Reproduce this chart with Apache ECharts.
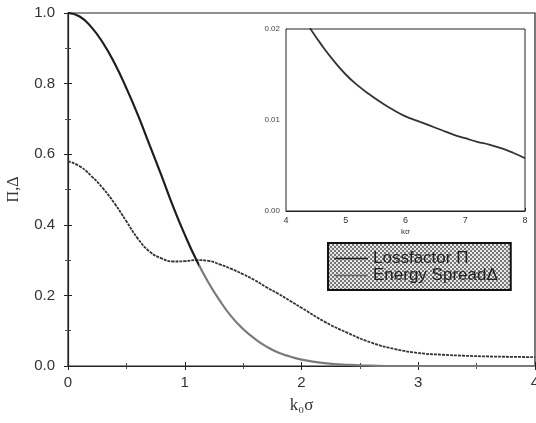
<!DOCTYPE html>
<html><head><meta charset="utf-8">
<script src="https://cdn.jsdelivr.net/npm/echarts@6/dist/echarts.min.js"></script>
<style>html,body{margin:0;padding:0;background:#fff}#c{width:536px;height:423px}</style>
</head><body><div id="c"></div>
<script>
// Main plot data (k0*sigma)
const xMain = [0,0.1,0.2,0.3,0.4,0.5,0.6,0.7,0.8,0.9,1.0,1.1,1.2,1.3,1.4,1.5,1.6,1.7,1.8,1.9,2.0,2.2,2.4,2.6,2.8,3.0,3.2,3.4,3.6,3.8,4.0];
const lossFactor = [1.0,0.99,0.96,0.915,0.857,0.787,0.71,0.625,0.54,0.452,0.372,0.30,0.238,0.185,0.14,0.105,0.077,0.055,0.038,0.027,0.018,0.008,0.003,0.001,0.0,0.0,0.0,0.0,0.0,0.0,0.0];
const energySpread = [0.58,0.566,0.538,0.503,0.46,0.41,0.36,0.324,0.305,0.296,0.297,0.300,0.298,0.288,0.275,0.26,0.243,0.223,0.205,0.185,0.165,0.125,0.093,0.066,0.048,0.037,0.032,0.029,0.027,0.026,0.025];
// Inset data (k*sigma from 4 to 8)
const xInset = [4.4,4.6,4.8,5.0,5.2,5.4,5.6,5.8,6.0,6.2,6.4,6.6,6.8,7.0,7.2,7.4,7.6,7.8,8.0];
const insetVals = [0.0201,0.0182,0.0165,0.0150,0.0138,0.0128,0.0119,0.0111,0.0104,0.0099,0.0094,0.0089,0.0084,0.0080,0.0076,0.0073,0.0069,0.0064,0.0058];
const legendNames = ['Lossfactor Π','Energy SpreadΔ'];

function pair(xs, ys){ return xs.map((x,i)=>[x,ys[i]]); }

// dotted pattern for legend box
const pc = document.createElement('canvas'); pc.width=4; pc.height=4;
const g = pc.getContext('2d');
g.fillStyle='#e8e8e8'; g.fillRect(0,0,4,4);
g.fillStyle='#777'; g.fillRect(0,0,2,2); g.fillRect(2,2,2,2);

const chart = echarts.init(document.getElementById('c'), null, {renderer:'canvas'});
const font = 'Liberation Sans';
const lossColor = {type:'linear', x:0, y:0, x2:1, y2:0, colorStops:[
  {offset:0, color:'#1e1e1e'},{offset:0.283, color:'#1e1e1e'},{offset:0.283, color:'#7a7a7a'},{offset:1, color:'#7a7a7a'}]};
chart.setOption({
  animation:false,
  backgroundColor:'#fff',
  grid:[
    {left:68, right:1, top:13, bottom:57, show:true, borderColor:'#222', borderWidth:1.2, outerBoundsMode:'none', containLabel:false},
    {left:286, right:11, top:29, bottom:212, show:true, borderColor:'#222', borderWidth:1, backgroundColor:'#fff', z:5, outerBoundsMode:'none', containLabel:false}
  ],
  legend:{
    data:legendNames, left:328, top:243, orient:'vertical',
    padding:[7,13,6,6], itemGap:0, itemWidth:34, itemHeight:10,
    backgroundColor:{image:pc, repeat:'repeat'}, borderColor:'#111', borderWidth:2,
    textStyle:{fontFamily:font, fontSize:17, color:'#222', lineHeight:16},
    icon:'path://M0,4 L40,4 L40,6 L0,6 Z', z:10
  },
  xAxis:[
    {gridIndex:0, type:'value', min:0, max:4, interval:1,
     name:'k₀σ', nameLocation:'middle', nameGap:31,
     nameTextStyle:{fontFamily:'Liberation Serif', fontSize:17, color:'#333'},
     axisLine:{lineStyle:{color:'#222', width:1.2}},
     axisTick:{inside:true, length:4, lineStyle:{color:'#222'}},
     minorTick:{show:true, splitNumber:2, length:3, lineStyle:{color:'#444'}},
     splitLine:{show:false},
     axisLabel:{fontFamily:font, fontSize:15, color:'#333', margin:9}},
    {gridIndex:0, type:'value', position:'top', min:0, max:4, interval:1,
     axisLine:{show:false}, axisTick:{inside:true, length:4, lineStyle:{color:'#222'}},
     minorTick:{show:true, splitNumber:2, length:3}, axisLabel:{show:false}, splitLine:{show:false}},
    {gridIndex:1, type:'value', min:4, max:8, interval:1,
     name:'kσ', nameLocation:'middle', nameGap:17,
     nameTextStyle:{fontFamily:font, fontSize:8, color:'#333'},
     axisLine:{lineStyle:{color:'#222'}},
     axisTick:{inside:true, length:3, lineStyle:{color:'#222'}},
     splitLine:{show:false},
     axisLabel:{fontFamily:font, fontSize:9, color:'#333', margin:5}}
  ],
  yAxis:[
    {gridIndex:0, type:'value', min:0, max:1, interval:0.2,
     name:'Π,Δ', nameLocation:'middle', nameGap:46,
     nameTextStyle:{fontFamily:'Liberation Serif', fontSize:16, color:'#333'},
     axisLine:{lineStyle:{color:'#222', width:1.2}},
     axisTick:{inside:true, length:4, lineStyle:{color:'#222'}},
     minorTick:{show:true, splitNumber:2, length:3, lineStyle:{color:'#444'}},
     splitLine:{show:false},
     axisLabel:{fontFamily:font, fontSize:15, color:'#333', margin:13, formatter:v=>v.toFixed(1)}},
    {gridIndex:0, type:'value', position:'right', min:0, max:1, interval:0.2,
     axisLine:{show:false}, axisTick:{inside:true, length:4, lineStyle:{color:'#222'}},
     minorTick:{show:true, splitNumber:2, length:3}, axisLabel:{show:false}, splitLine:{show:false}},
    {gridIndex:1, type:'value', min:0, max:0.02, interval:0.01,
     axisLine:{lineStyle:{color:'#222'}},
     axisTick:{inside:true, length:3, lineStyle:{color:'#222'}},
     minorTick:{show:true, splitNumber:2, length:2},
     splitLine:{show:false},
     axisLabel:{fontFamily:font, fontSize:8, color:'#444', margin:6, formatter:v=>v.toFixed(2)}}
  ],
  series:[
    {name:legendNames[0], type:'line', xAxisIndex:0, yAxisIndex:0, data:pair(xMain, lossFactor),
     smooth:true, showSymbol:false, lineStyle:{width:2.2, color:lossColor}, itemStyle:{color:'#1e1e1e'}, z:3},
    {name:legendNames[1], type:'line', xAxisIndex:0, yAxisIndex:0, data:pair(xMain, energySpread),
     smooth:true, showSymbol:false, lineStyle:{width:1.8, color:'#333', type:[3,1]}, itemStyle:{color:'#666'}, z:2},
    {type:'line', xAxisIndex:2, yAxisIndex:2, data:pair(xInset, insetVals),
     smooth:true, showSymbol:false, lineStyle:{width:1.8, color:'#333'}, z:6}
  ]
});
</script></body></html>
